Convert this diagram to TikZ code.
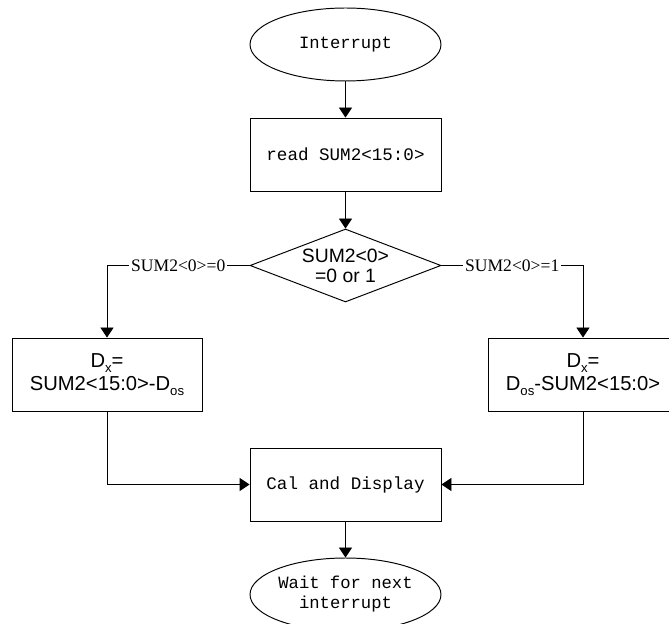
\documentclass[tikz,border=0pt]{standalone}
\usepackage{fontspec}
\setmainfont{Liberation Serif}
\setsansfont{Liberation Sans}
\setmonofont{Liberation Mono}
\usetikzlibrary{arrows.meta,shapes.geometric}
\newcommand{\lowsub}[1]{\raisebox{-0.45ex}{\fontsize{7.5}{8}\selectfont #1}}

\begin{document}
\begin{tikzpicture}[x=0.02cm, y=-0.02cm, line width=0.55pt,
		term/.style={ellipse, draw, minimum width=3.82cm, minimum height=1.46cm, inner sep=0pt, align=center, font=\fontsize{9.8}{11.4}\selectfont\ttfamily},
		proc/.style={rectangle, draw, minimum width=3.82cm, minimum height=1.46cm, inner sep=0pt, align=center, font=\fontsize{10}{12}\selectfont\ttfamily},
		formula/.style={rectangle, draw, minimum width=3.8cm, minimum height=1.46cm, inner sep=0pt, align=center, font=\fontsize{11.5}{13}\selectfont\sffamily},
		decision/.style={diamond, draw, minimum width=3.82cm, minimum height=1.46cm, inner sep=0pt},
		elabel/.style={fill=white, inner sep=1pt, font=\fontsize{10}{12}\selectfont},
		flow/.style={-{Triangle[length=5.7pt,width=7.5pt]}}]
		\useasboundingbox (0,0) rectangle (669,624);
		% nodes
		\node[term] (int) at (345.5,44.5) {Interrupt};
		\node[proc] (read) at (345.5,154.5) {read SUM2<15:0>};
		\node[decision, label={[align=center, font=\fontsize{11}{11.5}\selectfont\sffamily]center:{SUM2<0>\\=0 or 1}}] (dec) at (345.5,265.5) {};
		\node[formula] (dxa) at (107,374.5) {D\lowsub{x}=\\SUM2<15:0>-D\lowsub{os}};
		\node[formula] (dxb) at (583,374.5) {D\lowsub{x}=\\D\lowsub{os}-SUM2<15:0>};
		\node[proc] (cal) at (345.5,484.5) {Cal and Display};
		\node[term] (wait) at (345.5,594.5) {Wait for next\\interrupt};
		% connectors
		\draw[flow] (int) -- (read);
		\draw[flow] (read) -- (dec);
		\draw[flow] (dec.west) -| node[pos=0.25, elabel] {SUM2<0>=0} (dxa.north);
		\draw[flow] (dec.east) -| node[pos=0.25, elabel] {SUM2<0>=1} (dxb.north);
		\draw[flow] (dxa.south) |- (cal.west);
		\draw[flow] (dxb.south) |- (cal.east);
		\draw[flow] (cal) -- (wait);
	\end{tikzpicture}
\end{document}
